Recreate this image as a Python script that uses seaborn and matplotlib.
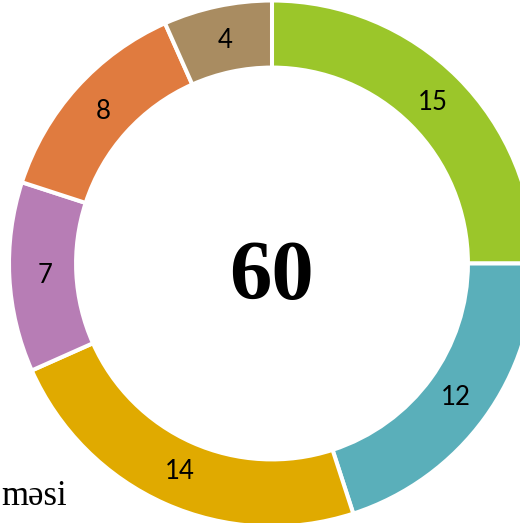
import matplotlib
matplotlib.use('Agg')
import matplotlib.pyplot as plt
import seaborn as sns

# Data
categories = ['A', 'B', 'C', 'D', 'E', 'F']
values = [15, 12, 14, 7, 8, 4]
colors = ['#9BC62A', '#5AAFBA', '#E0AA00', '#B77DB5', '#E07B3F', '#A98C61']
total = sum(values)
caption = 'məsi'

sns.set_theme(style='white')

fig = plt.figure(figsize=(5.2, 5.23), dpi=100)
ax = fig.add_axes([0, 0, 1, 1])

# donut centre and radius in pixels (chart is cropped at right/bottom)
cx, cy, r = 272, 263.5, 263
wedges, texts, autotexts = ax.pie(
    values, colors=colors, startangle=90, counterclock=False,
    radius=1.0, pctdistance=0.865,
    autopct=lambda p: f'{p * total / 100:.0f}',
    wedgeprops=dict(width=0.255, edgecolor='white', linewidth=2.9),
    textprops=dict(fontsize=18.5, family='Lato', color='black'),
)

ax.text(0, (cy - 279) / r, str(total), ha='center', va='center',
        fontsize=61, fontweight='bold', family='Liberation Serif', color='black')

ax.set_xlim(-cx / r, (520 - cx) / r)
ax.set_ylim((cy - 523) / r, cy / r)
ax.axis('off')

fig.text(1.5 / 520, 1 - 505 / 523, caption, ha='left', va='baseline',
         fontsize=25, family='Liberation Serif', color='black')

fig.savefig('out.png', dpi=100)
